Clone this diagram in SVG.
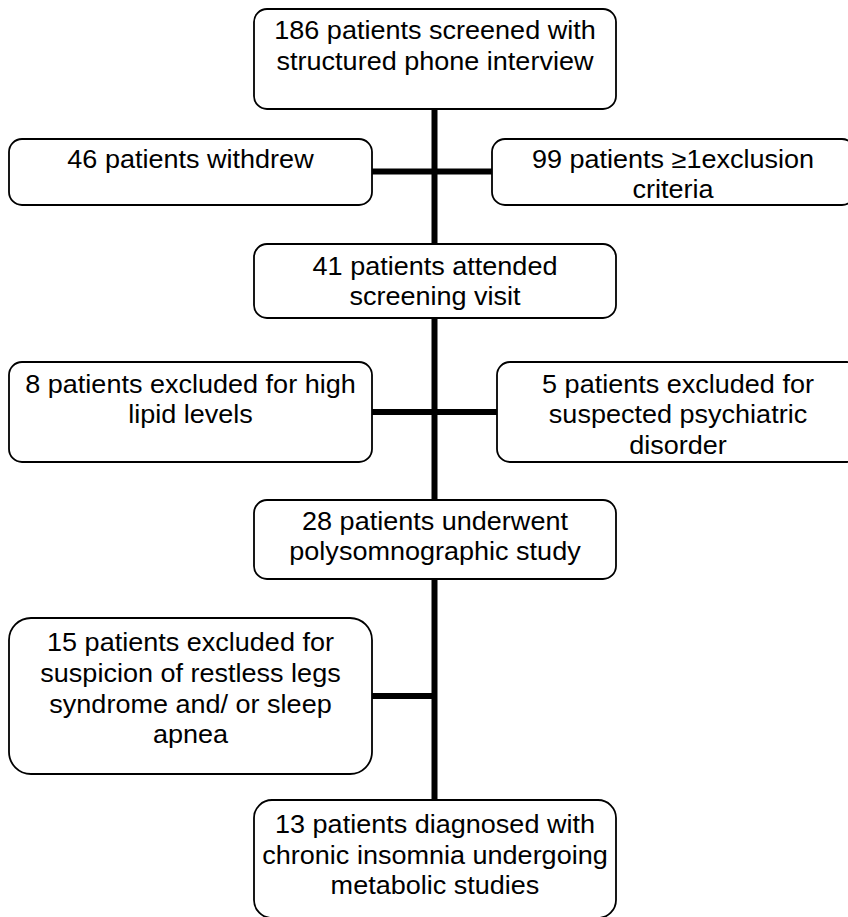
<svg xmlns="http://www.w3.org/2000/svg" width="848" height="917" viewBox="0 0 848 917">
<style>
.box{fill:#fff;stroke:#000;stroke-width:1.8}
.t{font-family:"Liberation Sans",Arial,sans-serif;font-size:25.5px;fill:#000;text-anchor:middle}
.c{stroke:#000;stroke-width:6;fill:none}
</style>
<rect width="848" height="917" fill="#fff"/>
<g id="connectors">
<line class="c" x1="434.5" y1="109" x2="434.5" y2="244"/>
<line class="c" x1="434.5" y1="318" x2="434.5" y2="500"/>
<line class="c" x1="434.5" y1="579" x2="434.5" y2="800"/>
<line class="c" x1="372" y1="171.5" x2="492" y2="171.5"/>
<line class="c" x1="372" y1="412" x2="497" y2="412"/>
<line class="c" x1="372" y1="696" x2="434.5" y2="696"/>
</g>
<g id="n186">
<rect class="box" x="254" y="9" width="362" height="100" rx="13"/>
<text class="t" transform="translate(435 0) scale(1.06 1)"><tspan x="0" y="39.5">186 patients screened with</tspan><tspan x="0" y="70">structured phone interview</tspan></text>
</g>
<g id="n46">
<rect class="box" x="9" y="139" width="363" height="66" rx="13"/>
<text class="t" transform="translate(190.5 0) scale(1.06 1)"><tspan x="0" y="168">46 patients withdrew</tspan></text>
</g>
<g id="n99">
<rect class="box" x="492" y="139" width="363" height="66" rx="13"/>
<text class="t" transform="translate(673 0) scale(1.06 1)"><tspan x="0" y="168">99 patients ≥1exclusion</tspan><tspan x="0" y="198.5">criteria</tspan></text>
</g>
<g id="n41">
<rect class="box" x="254" y="244" width="362" height="74" rx="13"/>
<text class="t" transform="translate(435 0) scale(1.06 1)"><tspan x="0" y="275">41 patients attended</tspan><tspan x="0" y="305.5">screening visit</tspan></text>
</g>
<g id="n8">
<rect class="box" x="9" y="362" width="363" height="100" rx="13"/>
<text class="t" transform="translate(190.5 0) scale(1.06 1)"><tspan x="0" y="393">8 patients excluded for high</tspan><tspan x="0" y="423.5">lipid levels</tspan></text>
</g>
<g id="n5">
<rect class="box" x="497" y="362" width="363" height="100" rx="13"/>
<text class="t" transform="translate(678 0) scale(1.06 1)"><tspan x="0" y="393">5 patients excluded for</tspan><tspan x="0" y="423.5">suspected psychiatric</tspan><tspan x="0" y="454">disorder</tspan></text>
</g>
<g id="n28">
<rect class="box" x="254" y="500" width="362" height="79" rx="13"/>
<text class="t" transform="translate(435 0) scale(1.06 1)"><tspan x="0" y="530">28 patients underwent</tspan><tspan x="0" y="560.5">polysomnographic study</tspan></text>
</g>
<g id="n15">
<rect class="box" x="9" y="618" width="363" height="156" rx="22"/>
<text class="t" transform="translate(190.5 0) scale(1.06 1)"><tspan x="0" y="651">15 patients excluded for</tspan><tspan x="0" y="682">suspicion of restless legs</tspan><tspan x="0" y="713">syndrome and/ or sleep</tspan><tspan x="0" y="743.5">apnea</tspan></text>
</g>
<g id="n13">
<rect class="box" x="254" y="800" width="362" height="118" rx="18"/>
<text class="t" transform="translate(435 0) scale(1.06 1)"><tspan x="0" y="833">13 patients diagnosed with</tspan><tspan x="0" y="864">chronic insomnia undergoing</tspan><tspan x="0" y="894">metabolic studies</tspan></text>
</g>
</svg>
